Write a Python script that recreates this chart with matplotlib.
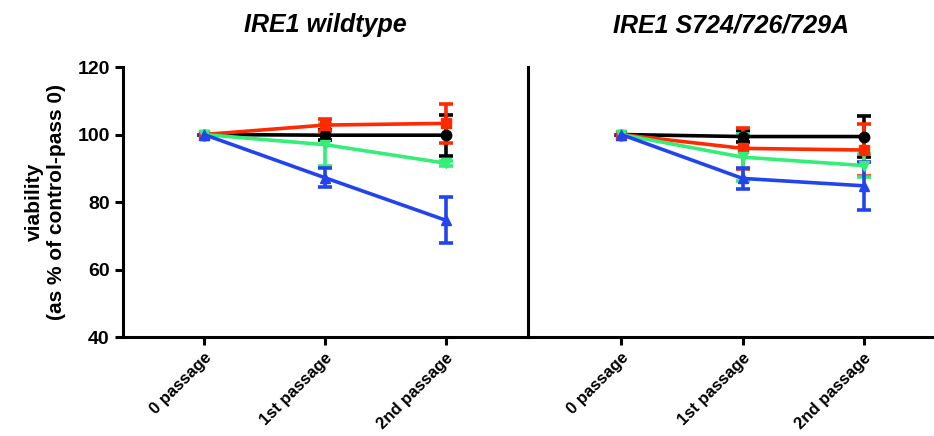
import numpy as np
import matplotlib.pyplot as plt

plt.rcParams['font.family'] = ['Liberation Sans', 'DejaVu Sans']

passages = ['0 passage', '1st passage', '2nd passage']
x = np.arange(3)

# IRE1 wildtype
wt_black = [100, 99.8, 99.8]
wt_black_err = [0, 1.5, 6.1]
wt_red = [100, 102.8, 103.3]
wt_red_err = [0, 1.8, 5.7]
wt_green = [100, 97.0, 91.5]
wt_green_err = [0, 6.2, 0.8]
wt_blue = [100, 87.2, 74.6]
wt_blue_err = [0, 2.8, 6.8]

# IRE1 S724/726/729A
mut_black = [100, 99.4, 99.4]
mut_black_err = [0, 1.5, 6.1]
mut_red = [100, 95.9, 95.4]
mut_red_err = [0, 6.0, 7.6]
mut_green = [100, 93.3, 90.8]
mut_green_err = [0, 7.0, 3.4]
mut_blue = [100, 87.0, 84.8]
mut_blue_err = [0, 3.0, 7.2]

colors = ['#000000', '#ff2a00', '#33ee77', '#2244ee']
markers = ['o', 's', 'v', '^']

fig = plt.figure(figsize=(9.34, 4.36), dpi=100)
ax1 = fig.add_axes([0.1317, 0.227, 0.4336, 0.6193])
ax2 = fig.add_axes([0.5653, 0.227, 0.4347, 0.6193])

panels = [
    (ax1, [wt_black, wt_red, wt_green, wt_blue],
     [wt_black_err, wt_red_err, wt_green_err, wt_blue_err], 'IRE1 wildtype', (-0.67, 2.68)),
    (ax2, [mut_black, mut_red, mut_green, mut_blue],
     [mut_black_err, mut_red_err, mut_green_err, mut_blue_err], 'IRE1 S724/726/729A', (-0.77, 2.58)),
]

for ax, series, errs, title, xl in panels:
    for s, e, c, m in zip(series, errs, colors, markers):
        ax.errorbar(x, s, yerr=e, color=c, marker=m, markersize=7.5, lw=2.6,
                    elinewidth=2.6, capsize=5, capthick=2.6)
    ax.set_xlim(*xl)
    ax.set_ylim(40, 120)
    ax.set_xticks(x)
    ax.set_xticklabels(passages, rotation=45, ha='right', rotation_mode='anchor',
                       fontsize=12, fontweight='bold')
    ax.set_title(title, fontsize=18, fontweight='bold', style='italic', pad=25)
    for sp in ['top', 'right']:
        ax.spines[sp].set_visible(False)
    for sp in ['left', 'bottom']:
        ax.spines[sp].set_linewidth(2.2)
    ax.tick_params(width=2.2, length=6)

ax1.set_yticks([40, 60, 80, 100, 120])
ax1.tick_params(axis='y', labelsize=14)
for lab in ax1.get_yticklabels():
    lab.set_fontweight('bold')
ax1.set_ylabel('viability\n(as % of control-pass 0)', fontsize=15, fontweight='bold', labelpad=8)

ax2.set_yticks([])

fig.savefig('out.png', dpi=100)
